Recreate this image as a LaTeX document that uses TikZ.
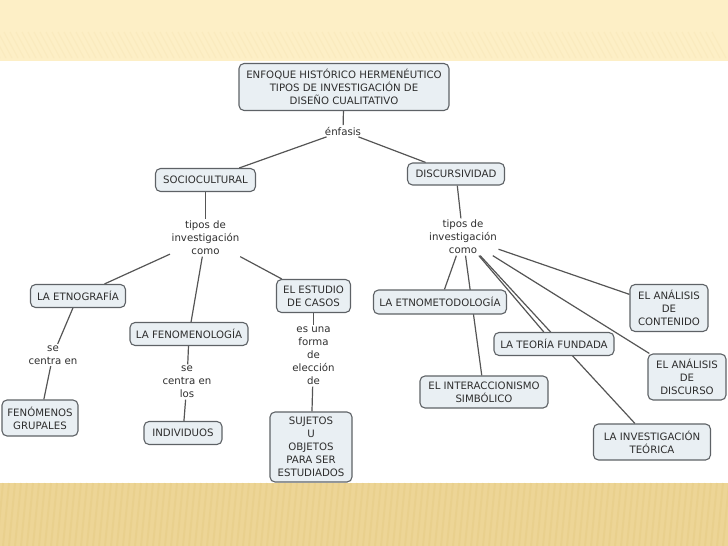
\documentclass[tikz,border=0pt]{standalone}
\usepackage{fontspec}
\setmainfont{DejaVu Sans}
\usetikzlibrary{backgrounds}
\definecolor{boxfill}{HTML}{E9EFF3}
\definecolor{boxdraw}{HTML}{5E6266}
\definecolor{linkcol}{HTML}{555555}
\definecolor{txtcol}{HTML}{2E2E2E}
\definecolor{topband}{HTML}{FDEFC6}
\definecolor{topstripe}{HTML}{F3DFAA}
\definecolor{botband}{HTML}{EDD596}
\definecolor{botstripe}{HTML}{E6CC86}
\begin{document}
\begin{tikzpicture}[x=1pt,y=-1pt,
  concept/.style={draw=boxdraw, fill=boxfill, rounded corners=5pt, line width=1.1pt,
    align=center, text=txtcol, font=\fontsize{10.2}{13}\selectfont, inner sep=2pt},
  phrase/.style={align=center, text=txtcol, font=\fontsize{10.2}{13}\selectfont, inner sep=1.5pt},
  link/.style={draw=linkcol, line width=1.2pt}]
\useasboundingbox (0,0) rectangle (728,546);
% bands
\fill[topband] (0,0) rectangle (728,61);
\fill[botband] (0,483) rectangle (728,546);
\foreach \i in {0,6,...,730} {
  \draw[topstripe, line width=1.2pt, opacity=0.25] (\i,58) -- (\i-14,32);
  \draw[botstripe, line width=2pt, opacity=0.5] (\i+3,483) -- (\i-3,546);
}
% concepts
\node[concept, minimum width=210, minimum height=47] (root) at (344,87) {ENFOQUE HISTÓRICO HERMENÉUTICO\\TIPOS DE INVESTIGACIÓN DE\\DISEÑO CUALITATIVO};
\node[phrase] (enf) at (343,131) {énfasis};
\node[concept, minimum width=100, minimum height=23] (soc) at (205.5,180) {SOCIOCULTURAL};
\node[concept, minimum width=97, minimum height=22] (dis) at (456,174) {DISCURSIVIDAD};
\node[phrase] (tl) at (205.5,238) {tipos de\\investigación\\como};
\node[phrase] (tr) at (463,237) {tipos de\\investigación\\como};
\node[concept, minimum width=95, minimum height=23] (etn) at (78,296) {LA ETNOGRAFÍA};
\node[concept, minimum width=118, minimum height=23] (fen) at (189,334) {LA FENOMENOLOGÍA};
\node[concept, minimum width=74, minimum height=33] (est) at (313.5,296) {EL ESTUDIO\\DE CASOS};
\node[phrase] (sc1) at (53,355) {se\\centra en};
\node[concept, minimum width=76, minimum height=36] (fgr) at (40,418) {FENÓMENOS\\GRUPALES};
\node[phrase] (sc2) at (187,382) {se\\centra en\\los};
\node[concept, minimum width=78, minimum height=23] (ind) at (183,433) {INDIVIDUOS};
\node[phrase] (esu) at (313.5,356) {es una\\forma\\de\\elección\\de};
\node[concept, minimum width=82, minimum height=70] (suj) at (311,447) {SUJETOS\\U\\OBJETOS\\PARA SER\\ESTUDIADOS};
\node[concept, minimum width=133, minimum height=24] (etm) at (440,302) {LA ETNOMETODOLOGÍA};
\node[concept, minimum width=120, minimum height=23] (tfu) at (554,344) {LA TEORÍA FUNDADA};
\node[concept, minimum width=78, minimum height=47] (acn) at (669,308) {EL ANÁLISIS\\DE\\CONTENIDO};
\node[concept, minimum width=78, minimum height=46] (adi) at (687,377) {EL ANÁLISIS\\DE\\DISCURSO};
\node[concept, minimum width=128, minimum height=32] (int) at (484,392) {EL INTERACCIONISMO\\SIMBÓLICO};
\node[concept, minimum width=117, minimum height=36] (ite) at (652,442) {LA INVESTIGACIÓN\\TEÓRICA};
% connectors
\begin{scope}[on background layer]
\draw[link] (root) -- (enf);
\draw[link] (enf) -- (soc);
\draw[link] (enf) -- (dis);
\draw[link] (soc) -- (tl);
\draw[link] (dis) -- (tr);
\draw[link] (tl) -- (etn);
\draw[link] (tl) -- (fen);
\draw[link] (tl) -- (est);
\draw[link] (etn) -- (sc1);
\draw[link] (sc1) -- (fgr);
\draw[link] (fen) -- (sc2);
\draw[link] (sc2) -- (ind);
\draw[link] (est) -- (esu);
\draw[link] (esu) -- (suj);
\draw[link] (tr) -- (etm);
\draw[link] (tr) -- (int);
\draw[link] (tr) -- (tfu);
\draw[link] (tr) -- (ite);
\draw[link] (tr) -- (adi);
\draw[link] (tr) -- (acn);
\end{scope}
\end{tikzpicture}
\end{document}
